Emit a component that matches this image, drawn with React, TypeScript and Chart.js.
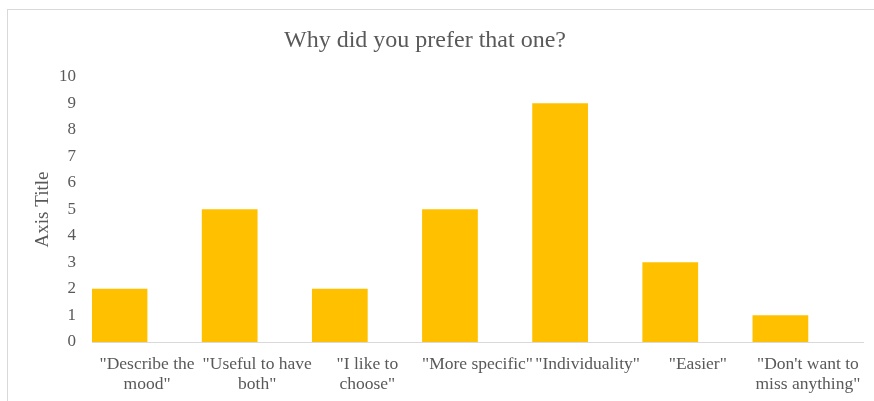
import { useEffect, useRef } from "react";
import { Chart, registerables } from "chart.js";

Chart.register(...registerables);

// Survey answers, one bar per reason
const reasons: string[][] = [
  ['"Describe the', 'mood"'],
  ['"Useful to have', 'both"'],
  ['"I like to', 'choose"'],
  ['"More specific"'],
  ['"Individuality"'],
  ['"Easier"'],
  ['"Don\'t want to', 'miss anything"'],
];
const answerCounts: number[] = [2, 5, 2, 5, 9, 3, 1];
// Second (empty) series of the workbook, keeps its half of each category slot
const emptySeries: (number | null)[] = [null, null, null, null, null, null, null];

const yMin = 0;
const yMax = 10;
const yStep = 1;

const chartTitle = "Why did you prefer that one?";
const yAxisTitle = "Axis Title";

const FONT = "'Liberation Serif', 'Times New Roman', serif";
const TEXT_COLOR = "#595959";
const BAR_COLOR = "#FFC000";
const LINE_COLOR = "#D9D9D9";

// Chart title centred on the whole chart frame rather than the canvas
const frameTitle = {
  id: "frameTitle",
  afterDraw(chart: any) {
    const ctx = chart.ctx;
    ctx.save();
    ctx.fillStyle = TEXT_COLOR;
    ctx.font = `normal 24px ${FONT}`;
    ctx.textAlign = "center";
    ctx.textBaseline = "middle";
    ctx.fillText(chartTitle, 425, 41);
    ctx.restore();
  },
};

export default function App() {
  const canvasRef = useRef<HTMLCanvasElement | null>(null);

  useEffect(() => {
    const canvas = canvasRef.current;
    if (!canvas) return;
    const chart = new Chart(canvas, {
      type: "bar",
      data: {
        labels: reasons,
        datasets: [
          {
            label: "Reasons",
            data: answerCounts,
            backgroundColor: BAR_COLOR,
            borderWidth: 0,
            categoryPercentage: 1,
            barPercentage: 1,
          },
          {
            label: "",
            data: emptySeries,
            backgroundColor: "rgba(0,0,0,0)",
            borderWidth: 0,
            categoryPercentage: 1,
            barPercentage: 1,
          },
        ],
      },
      options: {
        animation: false,
        responsive: false,
        devicePixelRatio: 1,
        layout: { padding: { left: 20, right: 11, top: 77, bottom: 0 } },
        plugins: {
          legend: { display: false },
          tooltip: { enabled: false },
          title: { display: false },
        },
        scales: {
          x: {
            grid: { display: false, drawTicks: false },
            border: { display: true, color: LINE_COLOR, width: 1 },
            ticks: {
              color: TEXT_COLOR,
              font: { family: FONT, size: 17.5, lineHeight: "20px" },
              padding: 12,
              maxRotation: 0,
              minRotation: 0,
              autoSkip: false,
            },
            afterFit: (scale: any) => {
              scale.height = 59;
            },
          },
          y: {
            min: yMin,
            max: yMax,
            grid: { display: false, drawTicks: false },
            border: { display: false },
            ticks: {
              stepSize: yStep,
              color: TEXT_COLOR,
              font: { family: FONT, size: 17 },
              padding: 16,
            },
            title: {
              display: true,
              text: yAxisTitle,
              color: TEXT_COLOR,
              font: { family: FONT, size: 19, weight: "normal" },
              padding: { top: 12, bottom: 0 },
            },
            afterFit: (scale: any) => {
              scale.width = 72;
            },
          },
        },
      },
      plugins: [frameTitle],
    });
    return () => chart.destroy();
  }, []);

  return (
    <div
      style={{
        position: "absolute",
        left: 0,
        top: 0,
        width: 874,
        height: 401,
        overflow: "hidden",
        background: "#ffffff",
      }}
    >
      <div
        style={{
          position: "absolute",
          left: 7,
          top: 9,
          width: 900,
          height: 500,
          border: `1px solid ${LINE_COLOR}`,
          boxSizing: "border-box",
        }}
      />
      <canvas
        ref={canvasRef}
        width={874}
        height={401}
        style={{ position: "absolute", left: 0, top: 0, width: 874, height: 401 }}
      />
    </div>
  );
}
